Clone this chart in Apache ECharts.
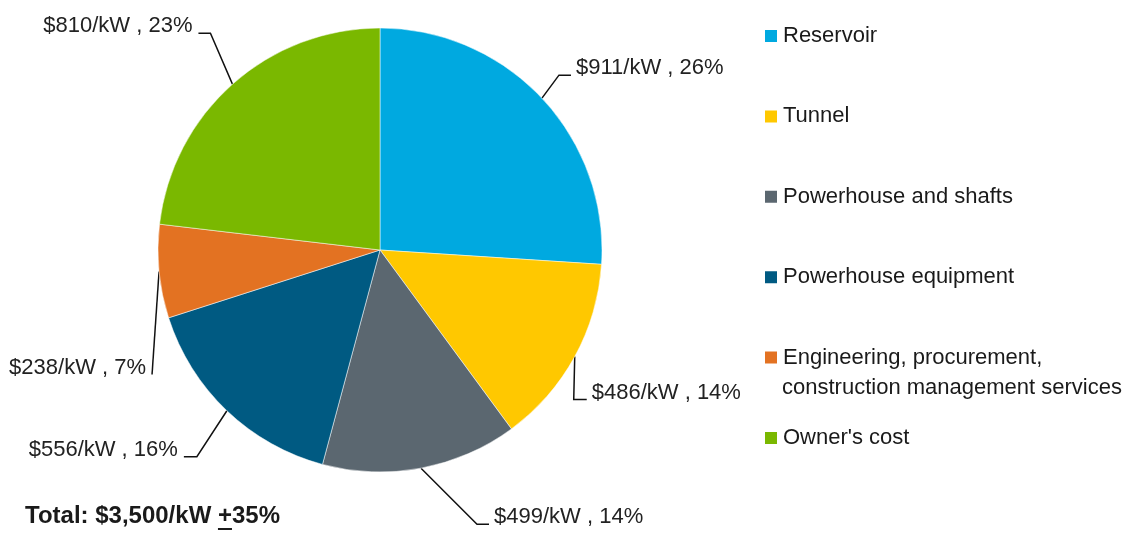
<!DOCTYPE html>
<html>
<head>
<meta charset="utf-8">
<script src="https://cdn.jsdelivr.net/npm/echarts@6/dist/echarts.min.js"></script>
<style>
  html, body { margin: 0; padding: 0; background: #fff; }
  #chart { width: 1125px; height: 534px; }
</style>
</head>
<body>
<div id="chart"></div>
<script>
// cost breakdown, $/kW
const categories = [
  'Reservoir',
  'Tunnel',
  'Powerhouse and shafts',
  'Powerhouse equipment',
  'Engineering, procurement,\nconstruction management services',
  "Owner's cost"
];
const costs = [911, 486, 499, 556, 238, 810];
const totalLabel = ['Total: $3,500/kW ', '+', '35%'];

const colors = ['#00A9E0', '#FFC800', '#5B6770', '#005A82', '#E37222', '#7AB800'];
const FONT = '"Liberation Sans Narrow", "Arial Narrow", "Liberation Sans", sans-serif';

// leader line shape per slice: elbow offset from the slice edge, then horizontal run
const leaders = [
  { dx: 17, dy: -23, h: 12 },
  { dx: -1, dy: 43, h: 13 },
  { dx: 56, dy: 56, h: 12 },
  { dx: -30, dy: 46, h: -13 },
  { dx: -7, dy: 103, h: 0 },
  { dx: -22, dy: -51, h: -12 }
];

// legend block
const legendLeft = 763;
const legendTop = 21;
const legendRow = 30;
const legendGap = 50.4;

const chart = echarts.init(document.getElementById('chart'), null, { renderer: 'canvas' });

// width of the text before the underlined "+"
const ctx = document.createElement('canvas').getContext('2d');
ctx.font = 'bold 24px ' + FONT;
const plusX = 25 + ctx.measureText(totalLabel[0]).width;
const plusW = ctx.measureText(totalLabel[1]).width;

// the two-line legend entry: first line in the legend, second line under it
const engIndex = 4;
const engLines = categories[engIndex].split('\n');
const engSecondY = legendTop + legendRow / 2 + engIndex * (legendRow + legendGap) + legendRow;

const option = {
  animation: false,
  color: colors,
  legend: {
    orient: 'vertical',
    left: legendLeft,
    top: legendTop,
    padding: 0,
    itemWidth: 14,
    itemHeight: 14,
    itemGap: legendGap,
    icon: 'rect',
    selectedMode: false,
    formatter: name => name.split('\n')[0],
    textStyle: {
      fontFamily: FONT,
      fontSize: 22,
      lineHeight: legendRow,
      color: '#1a1a1a'
    },
    data: categories
  },
  graphic: [
    {
      type: 'text',
      x: legendLeft + 14 + 5,
      y: engSecondY,
      style: {
        text: engLines[1],
        font: '22px ' + FONT,
        fill: '#1a1a1a',
        verticalAlign: 'middle'
      }
    },
    {
      type: 'text',
      x: 25,
      y: 516,
      style: {
        text: totalLabel.join(''),
        font: 'bold 24px ' + FONT,
        fill: '#1a1a1a',
        verticalAlign: 'middle'
      }
    },
    {
      type: 'line',
      shape: { x1: plusX, y1: 529, x2: plusX + plusW, y2: 529 },
      style: { stroke: '#1a1a1a', lineWidth: 2 }
    }
  ],
  series: [
    {
      type: 'pie',
      center: [380, 250],
      radius: 222,
      startAngle: 90,
      clockwise: true,
      percentPrecision: 0,
      itemStyle: { borderColor: '#fff', borderWidth: 0.5 },
      label: {
        show: true,
        position: 'outside',
        overflow: 'none',
        fontFamily: FONT,
        fontSize: 22,
        color: '#222',
        formatter: p => '$' + p.value + '/kW , ' + p.percent + '%'
      },
      labelLine: {
        show: true,
        length: 20,
        length2: 10,
        lineStyle: { color: '#111', width: 1.5 }
      },
      labelLayout: function (params) {
        const p0 = params.labelLinePoints[0];
        const l = leaders[params.dataIndex];
        const p1 = [p0[0] + l.dx, p0[1] + l.dy];
        const p2 = [p1[0] + l.h, p1[1]];
        const right = l.h > 0 || (l.h === 0 && l.dx > 0);
        return {
          x: p2[0] + (right ? 5 : -6),
          y: p2[1] - 7,
          align: right ? 'left' : 'right',
          verticalAlign: 'middle',
          labelLinePoints: [p0, p1, p2]
        };
      },
      emphasis: { disabled: true },
      data: categories.map((name, i) => ({ name: name, value: costs[i] }))
    }
  ]
};

chart.setOption(option);
</script>
</body>
</html>
